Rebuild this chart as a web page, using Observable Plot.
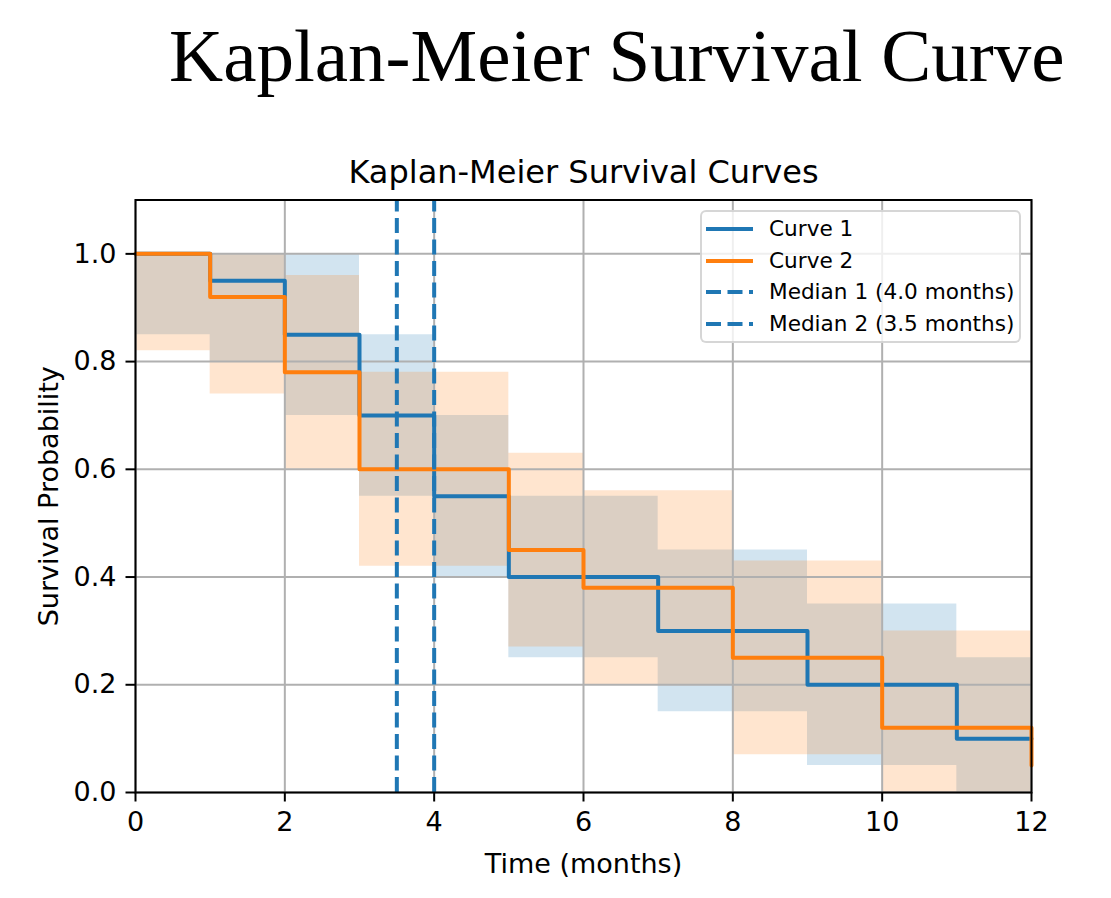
<!DOCTYPE html>
<html><head><meta charset="utf-8">
<script src="https://cdn.jsdelivr.net/npm/d3@7"></script>
<script src="https://cdn.jsdelivr.net/npm/@observablehq/plot@0.6"></script>
<style>
body{margin:0;background:#fff;}
#title{height:100px;box-sizing:border-box;padding-top:18px;padding-left:169px;font-family:"Liberation Serif","Times New Roman",serif;font-size:75px;line-height:75px;white-space:nowrap;color:#000;}
#wrap{position:relative;width:1111px;height:798px;}
#legend{position:absolute;left:700px;top:110px;width:321px;height:133px;box-sizing:border-box;border:2px solid rgba(204,204,204,0.8);border-radius:6px;background:rgba(255,255,255,0.8);font-family:"DejaVu Sans";font-size:21.6px;padding-top:1px;color:#000;}
.row{display:flex;align-items:center;height:31.7px;line-height:31.7px;white-space:nowrap;}
.row svg{margin-left:4px;margin-right:16px;flex:none;}
</style></head>
<body>
<div id="title"></div>
<div id="wrap"><div id="chart"></div><div id="legend"></div></div>
<script>
const mainTitle = "Kaplan-Meier Survival Curve";
const subtitle = "Kaplan-Meier Survival Curves";
const xLabel = "Time (months)";
const yLabel = "Survival Probability";

const times  = [0, 1, 2, 3, 4, 5, 6, 7, 8, 9, 10, 11, 12];
const surv1  = [1.00, 0.95, 0.85, 0.70, 0.55, 0.40, 0.40, 0.30, 0.30, 0.20, 0.20, 0.10, 0.10];
const lower1 = [0.85, 0.80, 0.70, 0.55, 0.40, 0.25, 0.25, 0.15, 0.15, 0.05, 0.05, 0.00, 0.00];
const upper1 = [1.00, 1.00, 1.00, 0.85, 0.70, 0.55, 0.55, 0.45, 0.45, 0.35, 0.35, 0.25, 0.25];
const surv2  = [1.00, 0.92, 0.78, 0.60, 0.60, 0.45, 0.38, 0.38, 0.25, 0.25, 0.12, 0.12, 0.05];
const lower2 = [0.82, 0.74, 0.60, 0.42, 0.42, 0.27, 0.20, 0.20, 0.07, 0.07, 0.00, 0.00, 0.00];
const upper2 = [1.00, 1.00, 0.96, 0.78, 0.78, 0.63, 0.56, 0.56, 0.43, 0.43, 0.30, 0.30, 0.30];
const medians = [4.0, 3.5];
const curveNames = ["Curve 1", "Curve 2"];
const xTicks = [0, 2, 4, 6, 8, 10, 12];
const yTicks = [0, 0.2, 0.4, 0.6, 0.8, 1.0];

const C0 = "#1f77b4", C1 = "#ff7f0e";

document.getElementById("title").textContent = mainTitle;

const rows1 = times.map((t, i) => ({t, s: surv1[i], lo: lower1[i], hi: upper1[i]}));
const rows2 = times.map((t, i) => ({t, s: surv2[i], lo: lower2[i], hi: upper2[i]}));

const chart = Plot.plot({
  width: 1111, height: 798,
  marginTop: 99.5, marginLeft: 135, marginRight: 80, marginBottom: 106,
  x: {domain: [0, 12]},
  y: {domain: [0, 1.1]},
  style: {fontFamily: "DejaVu Sans", fontSize: "27px", color: "#000", background: "#fff"},
  marks: [
    Plot.areaY(rows1, {x: "t", y1: "lo", y2: "hi", curve: "step-after", fill: C0, fillOpacity: 0.2}),
    Plot.areaY(rows2, {x: "t", y1: "lo", y2: "hi", curve: "step-after", fill: C1, fillOpacity: 0.2}),
    Plot.gridX(xTicks, {stroke: "#b0b0b0", strokeOpacity: 1, strokeWidth: 2}),
    Plot.gridY(yTicks, {stroke: "#b0b0b0", strokeOpacity: 1, strokeWidth: 2}),
    Plot.lineY(rows1, {x: "t", y: "s", curve: "step-after", stroke: C0, strokeWidth: 4}),
    Plot.lineY(rows2, {x: "t", y: "s", curve: "step-after", stroke: C1, strokeWidth: 4}),
    Plot.ruleX(medians, {x: d => d, y1: 0, y2: 1.1, stroke: C0, strokeWidth: 4, strokeDasharray: "15,6.5"}),
    Plot.axisX({ticks: xTicks, tickSize: 9.5, tickPadding: 9.5, tickFormat: d => String(d), strokeWidth: 2, label: null, fontSize: 27}),
    Plot.axisY({ticks: yTicks, tickSize: 9.5, tickPadding: 9.5, tickFormat: d => d.toFixed(1), strokeWidth: 2, label: null, fontSize: 27}),
    Plot.frame({stroke: "#000", strokeWidth: 2}),
    Plot.text([subtitle], {text: d => d, frameAnchor: "top", dy: -17.5, lineAnchor: "bottom", fontSize: 32}),
    Plot.text([xLabel], {text: d => d, frameAnchor: "bottom", dy: 80, lineAnchor: "bottom", fontSize: 27}),
    Plot.text([yLabel], {text: d => d, frameAnchor: "left", dx: -78, rotate: -90, textAnchor: "middle", lineAnchor: "bottom", fontSize: 27})
  ]
});
document.getElementById("chart").appendChild(chart);

const legendItems = [
  {label: curveNames[0], color: C0, dash: null},
  {label: curveNames[1], color: C1, dash: null},
  ...medians.map((m, i) => ({label: `Median ${i + 1} (${m.toFixed(1)} months)`, color: C0, dash: "15,6.5"}))
];
const leg = document.getElementById("legend");
legendItems.forEach(it => {
  const row = document.createElement("div");
  row.className = "row";
  row.innerHTML = `<svg width="47" height="8"><line x1="0" x2="47" y1="4" y2="4" stroke="${it.color}" stroke-width="4"${it.dash ? ` stroke-dasharray="${it.dash}"` : ""}/></svg><span>${it.label}</span>`;
  leg.appendChild(row);
});
</script>
</body></html>
